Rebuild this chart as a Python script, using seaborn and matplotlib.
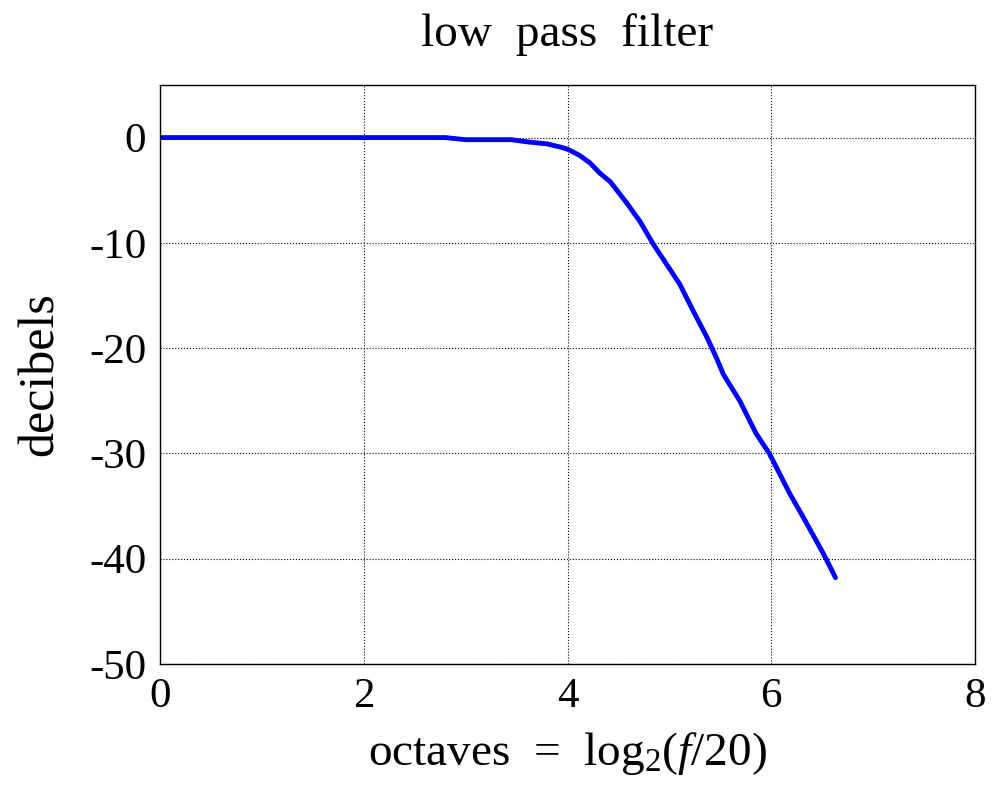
import matplotlib
matplotlib.use("Agg")
import matplotlib.pyplot as plt
import seaborn as sns
import pandas as pd

octaves = [0, 0.5, 1, 1.5, 2, 2.5, 2.8, 3.0, 3.2, 3.45, 3.6, 3.8, 3.93, 4.0,
           4.12, 4.22, 4.32, 4.42, 4.58, 4.71, 4.84, 4.97, 5.10, 5.23, 5.37,
           5.46, 5.53, 5.69, 5.85, 5.98, 6.18, 6.31, 6.51, 6.63]
decibels = [0, 0, 0, 0, 0, 0, 0, -0.2, -0.2, -0.2, -0.4, -0.6, -0.9, -1.1,
            -1.7, -2.4, -3.4, -4.2, -6.2, -7.95, -10.1, -12.0, -13.9, -16.4, -19.0,
            -20.9, -22.5, -25.0, -28.1, -30.0, -33.8, -36.0, -39.5, -41.8]
x_ticks = [0, 2, 4, 6, 8]
y_ticks = [0, -10, -20, -30, -40, -50]

sns.set_theme(style="white")
plt.rcParams['font.family'] = ['Liberation Serif', 'DejaVu Serif']
plt.rcParams['mathtext.fontset'] = 'custom'
plt.rcParams['mathtext.rm'] = 'Liberation Serif'
plt.rcParams['mathtext.it'] = 'Liberation Serif:italic'
plt.rcParams['text.color'] = 'black'
plt.rcParams['axes.labelcolor'] = 'black'

df = pd.DataFrame({"octaves": octaves, "decibels": decibels})

fig = plt.figure(figsize=(9.97, 7.91), dpi=100)
ax = fig.add_axes([0.1605, 0.1606, 0.8175, 0.732])
sns.lineplot(data=df, x="octaves", y="decibels", color="#0000ff", linewidth=3.5, ax=ax)

ax.set_xlim(0, 8)
ax.set_ylim(-50, 5)
ax.set_xticks(x_ticks)
ax.set_yticks(y_ticks)
ax.set_xticklabels([str(t) for t in x_ticks])
ax.set_yticklabels([str(t) for t in y_ticks])
ax.grid(True, color="black", linestyle=":", linewidth=0.8)
ax.tick_params(axis="both", labelsize=31, length=0, pad=10, colors="black")
for s in ax.spines.values():
    s.set_color("black")
    s.set_linewidth(1.0)

ax.set_title("low  pass  filter", fontsize=34, pad=28, color="black")
ax.set_xlabel(r"octaves  =  log$_2$($\mathit{f}$/20)", fontsize=34, labelpad=10, color="black")
ax.set_ylabel("decibels", fontsize=36, labelpad=18, color="black")

fig.savefig("out.png", dpi=100)
